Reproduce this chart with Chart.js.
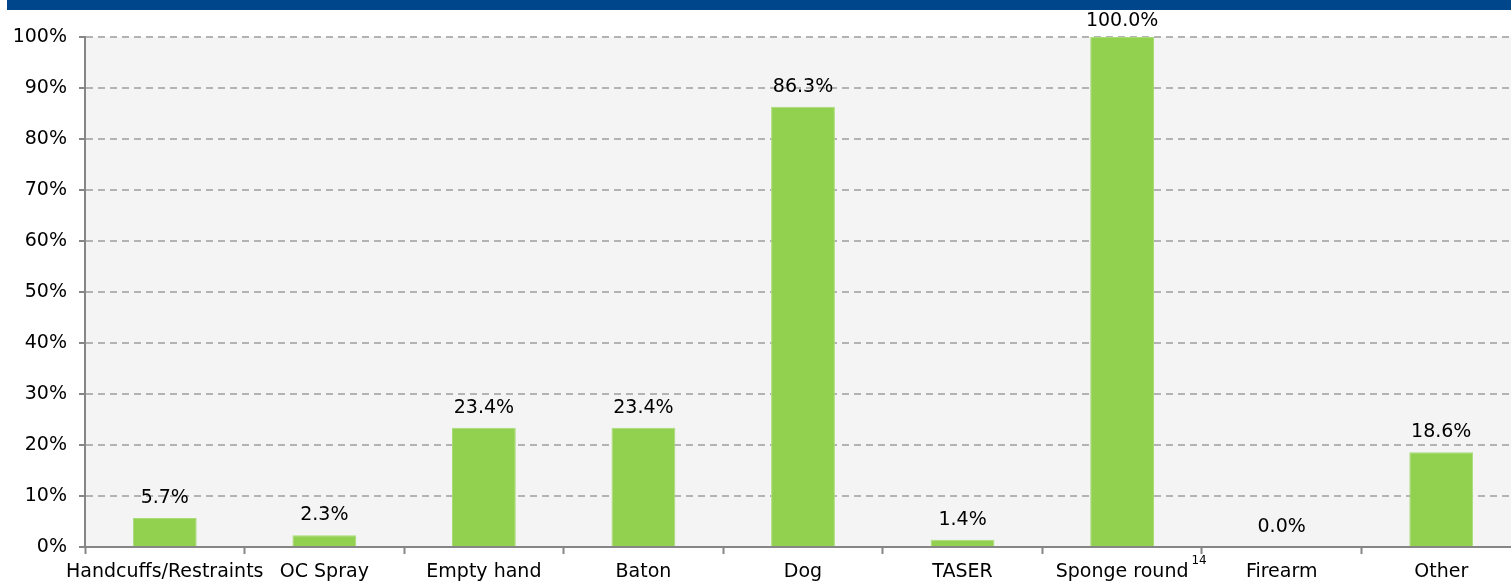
<!DOCTYPE html>
<html>
<head>
<meta charset="utf-8">
<script src="https://cdn.jsdelivr.net/npm/chart.js@4.4.1/dist/chart.umd.min.js"></script>
<style>
  html, body { margin: 0; padding: 0; background: #fff; overflow: hidden; }
  #wrap { width: 1521px; height: 582px; }
</style>
</head>
<body>
<div id="wrap"><canvas id="forceChart" width="1521" height="582"></canvas></div>
<script>
// Categories and percentages per force type
var categories = ['Handcuffs/Restraints', 'OC Spray', 'Empty hand', 'Baton', 'Dog', 'TASER', 'Sponge round', 'Firearm', 'Other'];
var percentages = [5.7, 2.3, 23.4, 23.4, 86.3, 1.4, 100.0, 0.0, 18.6];
var yTicks = [0, 10, 20, 30, 40, 50, 60, 70, 80, 90, 100];
var footnoteIndex = 6;
var footnoteMark = '14';

var FONT = '"DejaVu Sans", Verdana, sans-serif';
var FONT_SIZE = 19;

// header band and grey plot background
var backdrop = {
    id: 'backdrop',
    beforeDraw: function(chart) {
        var ctx = chart.ctx, a = chart.chartArea;
        ctx.save();
        ctx.fillStyle = '#00468B';
        ctx.fillRect(7, 0, chart.width - 7, 10);
        ctx.fillStyle = '#F4F4F4';
        ctx.fillRect(a.left, a.top, a.right - a.left, a.bottom - a.top);
        ctx.restore();
    }
};

// value labels above each bar
var valueLabels = {
    id: 'valueLabels',
    afterDatasetsDraw: function(chart) {
        var ctx = chart.ctx;
        var meta = chart.getDatasetMeta(0);
        ctx.save();
        ctx.font = FONT_SIZE + 'px ' + FONT;
        ctx.fillStyle = '#000';
        ctx.textAlign = 'center';
        ctx.textBaseline = 'middle';
        meta.data.forEach(function(bar, i) {
            var y = Math.max(bar.y - 20, 21);
            ctx.fillText(percentages[i].toFixed(1) + '%', bar.x, y);
        });
        ctx.restore();
    }
};

// superscript footnote after one category label
var footnote = {
    id: 'footnote',
    afterDraw: function(chart) {
        var ctx = chart.ctx, xs = chart.scales.x;
        var x = xs.getPixelForTick(footnoteIndex);
        ctx.save();
        ctx.font = FONT_SIZE + 'px ' + FONT;
        var w = ctx.measureText(categories[footnoteIndex]).width;
        ctx.font = '12px ' + FONT;
        ctx.fillStyle = '#000';
        ctx.textAlign = 'left';
        ctx.textBaseline = 'middle';
        ctx.fillText(footnoteMark, x + w / 2 + 3, 561);
        ctx.restore();
    }
};

var ctx = document.getElementById('forceChart').getContext('2d');
var forceChart = new Chart(ctx, {
    type: 'bar',
    data: {
        labels: categories,
        datasets: [{
            data: percentages,
            backgroundColor: '#92D050',
            borderColor: '#A9DC77',
            borderWidth: 1,
            barPercentage: 0.4,
            categoryPercentage: 1
        }]
    },
    options: {
        responsive: false,
        animation: false,
        layout: { padding: { top: 37, right: 0, left: 0, bottom: 0 } },
        plugins: {
            legend: { display: false },
            tooltip: { enabled: false }
        },
        scales: {
            x: {
                afterFit: function(s) { s.height = 35; },
                grid: {
                    offset: true,
                    drawOnChartArea: false,
                    tickLength: 7,
                    tickColor: '#868686',
                    tickWidth: 2
                },
                border: { color: '#868686', width: 2 },
                ticks: {
                    color: '#000',
                    font: { family: FONT, size: FONT_SIZE },
                    maxRotation: 0,
                    autoSkip: false,
                    padding: 7
                }
            },
            y: {
                min: 0,
                max: 100,
                afterFit: function(s) { s.width = 85; },
                afterBuildTicks: function(s) {
                    s.ticks = yTicks.map(function(v) { return { value: v }; });
                },
                grid: {
                    color: '#B3B3B3',
                    lineWidth: 2,
                    tickLength: 6,
                    tickColor: '#868686',
                    tickWidth: 2
                },
                border: { color: '#868686', width: 2, dash: [7, 5] },
                ticks: {
                    color: '#000',
                    font: { family: FONT, size: FONT_SIZE },
                    padding: 12,
                    callback: function(v) { return v + '%'; }
                }
            }
        }
    },
    plugins: [backdrop, valueLabels, footnote]
});
</script>
</body>
</html>
